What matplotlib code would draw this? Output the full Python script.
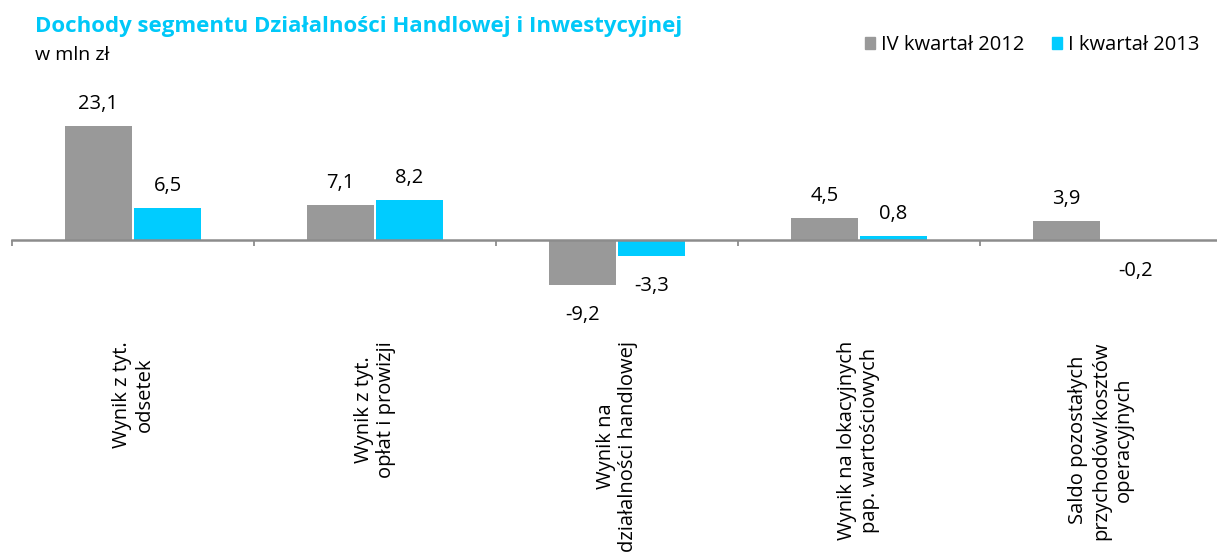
import matplotlib.pyplot as plt
import numpy as np
from matplotlib.transforms import blended_transform_factory
from matplotlib.patches import Patch

plt.rcParams['font.family'] = ['Open Sans', 'DejaVu Sans']

# dane (w mln zł)
kategorie = ["Wynik z tyt.\nodsetek",
             "Wynik z tyt.\nopłat i prowizji",
             "Wynik na\ndziałalności handlowej",
             "Wynik na lokacyjnych\npap. wartościowych",
             "Saldo pozostałych\nprzychodów/kosztów\noperacyjnych"]
serie = ["IV kwartał 2012", "I kwartał 2013"]
q4_2012 = [23.1, 7.1, -9.2, 4.5, 3.9]
q1_2013 = [6.5, 8.2, -3.3, 0.8, -0.2]

kolory = ['#999999', '#00CCFF']
W, H = 1217, 552

fig = plt.figure(figsize=(W / 100, H / 100), dpi=100)
# oś: od x=12 px do 1222 px, od y=90 px do 300 px
ax = fig.add_axes([12 / W, (H - 300) / H, 1210 / W, 210 / H])

x = np.arange(len(kategorie))
szer = 0.277
off = 0.143
for vals, kol, d in [(q4_2012, kolory[0], -off), (q1_2013, kolory[1], off)]:
    bars = ax.bar(x + d, vals, szer, color=kol, linewidth=0)
    for b, v in zip(bars, vals):
        txt = f"{v:.1f}".replace('.', ',')
        xc = b.get_x() + b.get_width() / 2
        if v >= 0:
            ax.annotate(txt, (xc, v), xytext=(0, 12), textcoords='offset points',
                        ha='center', va='baseline', fontsize=14.5)
        else:
            ax.annotate(txt, (xc, v), xytext=(0, -25), textcoords='offset points',
                        ha='center', va='baseline', fontsize=14.5)

ax.set_xlim(-0.5, len(kategorie) - 0.5)
ax.set_ylim(-60 / 4.935, 150 / 4.935)

for s in ['top', 'right', 'left']:
    ax.spines[s].set_visible(False)
ax.spines['bottom'].set_position(('data', 0))
ax.spines['bottom'].set_color('#8c8c8c')
ax.spines['bottom'].set_linewidth(1.8)
ax.set_yticks([])
ax.set_xticks(np.arange(len(kategorie) + 1) - 0.5)
ax.set_xticklabels([])
ax.tick_params(axis='x', direction='out', length=4.5, width=1.3, color='#8c8c8c')

# etykiety kategorii (pionowe)
tr = blended_transform_factory(ax.transData, fig.transFigure)
for i, k in enumerate(kategorie):
    ax.text(i, (H - 341) / H, k, transform=tr, rotation=90, ha='center', va='top',
            multialignment='center', fontsize=14.5, linespacing=1.2)

fig.text(35 / W, 1 - 32 / H, "Dochody segmentu Działalności Handlowej i Inwestycyjnej",
         color='#00C8F8', fontsize=16, fontweight='bold', va='baseline')
fig.text(35 / W, 1 - 60 / H, "w mln zł", fontsize=14, va='baseline')

uchwyty = [Patch(color=kolory[0], label=serie[0]), Patch(color=kolory[1], label=serie[1])]
fig.legend(handles=uchwyty, loc='center right', bbox_to_anchor=(1200 / W, 1 - 45 / H),
           ncol=2, frameon=False, fontsize=14.5, handlelength=0.5, handleheight=0.5,
           handletextpad=0.3, columnspacing=1.4, borderpad=0, borderaxespad=0)

fig.savefig('out.png', dpi=100)
